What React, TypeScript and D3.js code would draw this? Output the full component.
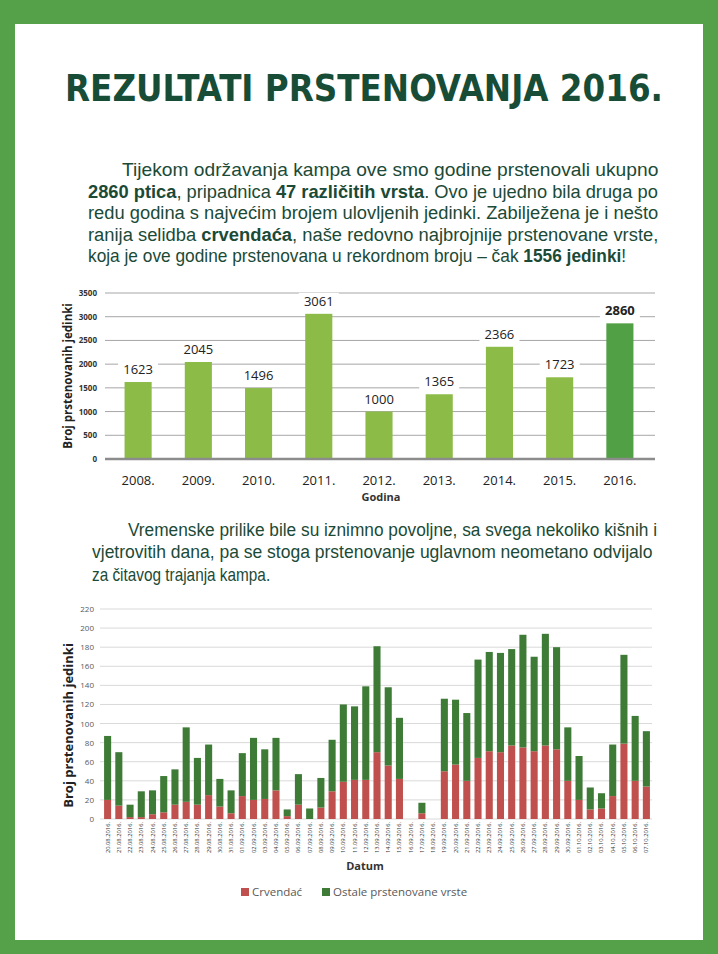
import * as d3 from "d3";
import { useLayoutEffect, useRef, useState } from "react";

// ---- data: yearly totals ----
const years = ["2008.", "2009.", "2010.", "2011.", "2012.", "2013.", "2014.", "2015.", "2016."];
const yearTotals = [1623, 2045, 1496, 3061, 1000, 1365, 2366, 1723, 2860];
const yearTicks = [0, 500, 1000, 1500, 2000, 2500, 3000, 3500];

// ---- data: daily catches 2016 ----
const days = [
  "20.08.2016.", "21.08.2016.", "22.08.2016.", "23.08.2016.", "24.08.2016.", "25.08.2016.",
  "26.08.2016.", "27.08.2016.", "28.08.2016.", "29.08.2016.", "30.08.2016.", "31.08.2016.",
  "01.09.2016.", "02.09.2016.", "03.09.2016.", "04.09.2016.", "05.09.2016.", "06.09.2016.",
  "07.09.2016.", "08.09.2016.", "09.09.2016.", "10.09.2016.", "11.09.2016.", "12.09.2016.",
  "13.09.2016.", "14.09.2016.", "15.09.2016.", "16.09.2016.", "17.09.2016.", "18.09.2016.",
  "19.09.2016.", "20.09.2016.", "21.09.2016.", "22.09.2016.", "23.09.2016.", "24.09.2016.",
  "25.09.2016.", "26.09.2016.", "27.09.2016.", "28.09.2016.", "29.09.2016.", "30.09.2016.",
  "01.10.2016.", "02.10.2016.", "03.10.2016.", "04.10.2016.", "05.10.2016.", "06.10.2016.",
  "07.10.2016.",
];
const crvendac = [
  20, 14, 2, 2, 5, 7, 15, 18, 15, 25, 13, 6,
  24, 20, 21, 30, 3, 15, 0, 12, 29, 39, 41, 41, 70, 56, 42, 0, 6, 0,
  50, 57, 40, 64, 71, 70, 77, 75, 71, 77, 73, 40,
  20, 10, 11, 24, 79, 40, 34,
];
const ostale = [
  67, 56, 13, 27, 25, 38, 37, 78, 49, 53, 29, 24,
  45, 65, 52, 55, 7, 32, 11, 31, 54, 81, 77, 98, 111, 82, 64, 0, 11, 0,
  76, 68, 71, 103, 104, 104, 101, 118, 99, 117, 107, 56,
  46, 23, 16, 54, 93, 68, 58,
];
const dayTicks = [0, 20, 40, 60, 80, 100, 120, 140, 160, 180, 200, 220];
const seriesKeys = ["crvendac", "ostale"];
const seriesNames = ["Crvendać", "Ostale prstenovane vrste"];
const seriesColors = ["#c0504d", "#3e7b37"];

const TEXT = "#1b4a37";
const BODY_FONT = "'Liberation Sans', Arial, sans-serif";
const TITLE_FONT = "'DejaVu Sans Condensed', 'Open Sans', sans-serif";
const CHART_FONT = "'Open Sans', 'Noto Sans', sans-serif";

type Seg = { t: string; b?: boolean };

// one line of body text, squeezed horizontally to the wanted width
function Line({ x, y, w, parts, size = 18 }: { x: number; y: number; w: number; parts: Seg[]; size?: number }) {
  const ref = useRef<SVGTextElement>(null);
  const [k, setK] = useState(0.85);

  useLayoutEffect(() => {
    if (!ref.current) return;
    const natural = ref.current.getBBox().width;
    if (natural > 0) setK(w / natural);
  }, [w]);

  return (
    <text
      ref={ref}
      transform={`translate(${x},${y}) scale(${k},1)`}
      fontFamily={BODY_FONT}
      fontSize={size}
      fill={TEXT}
    >
      {parts.map((p, i) => (
        <tspan key={i} fontWeight={p.b ? "bold" : "normal"}>
          {p.t}
        </tspan>
      ))}
    </text>
  );
}

export default function App() {
  // top chart scales
  const xYear = d3.scaleBand().domain(years).range([108, 650]).paddingInner(0.55).paddingOuter(0.275);
  const yYear = d3.scaleLinear().domain([0, 3500]).range([459, 293]);

  // bottom chart scales
  const xDay = d3.scaleBand().domain(days).range([102, 652]).paddingInner(0.37).paddingOuter(0.185);
  const yDay = d3.scaleLinear().domain([0, 220]).range([819, 609]);

  const rows = days.map((d, i) => ({ date: d, crvendac: crvendac[i], ostale: ostale[i] }));
  const stacked = d3.stack<any>().keys(seriesKeys)(rows);

  return (
    <svg
      width={718}
      height={954}
      style={{ position: "absolute", left: 0, top: 0 }}
    >
      <rect x={0} y={0} width={718} height={954} fill="#55a14a" />
      <rect x={15} y={24} width={688} height={916} fill="#ffffff" />

      {/* title */}
      <text
        x={65}
        y={101}
        textLength={598}
        lengthAdjust="spacingAndGlyphs"
        fontFamily={TITLE_FONT}
        fontWeight="bold"
        fontSize={38}
        fill="#174d37"
      >
        REZULTATI PRSTENOVANJA 2016.
      </text>

      {/* paragraph 1 */}
      <Line x={122} y={176} w={536} parts={[{ t: "Tijekom održavanja kampa ove smo godine prstenovali ukupno" }]} />
      <Line
        x={88}
        y={198}
        w={570}
        parts={[
          { t: "2860 ptica", b: true },
          { t: ", pripadnica " },
          { t: "47 različitih vrsta", b: true },
          { t: ". Ovo je ujedno bila druga po" },
        ]}
      />
      <Line x={88} y={219} w={570} parts={[{ t: "redu godina s najvećim brojem ulovljenih jedinki. Zabilježena je i nešto" }]} />
      <Line
        x={88}
        y={241}
        w={570}
        parts={[
          { t: "ranija selidba " },
          { t: "crvendaća", b: true },
          { t: ", naše redovno najbrojnije prstenovane vrste," },
        ]}
      />
      <Line
        x={88}
        y={262}
        w={538}
        parts={[
          { t: "koja je ove godine prstenovana u rekordnom broju – čak " },
          { t: "1556 jedinki", b: true },
          { t: "!" },
        ]}
      />

      {/* ---- top chart ---- */}
      <g fontFamily={CHART_FONT}>
        {yearTicks.map((t) => (
          <g key={t}>
            {t > 0 && (
              <line x1={105} x2={655} y1={yYear(t)} y2={yYear(t)} stroke="#a6a6a6" strokeWidth={1} />
            )}
            <text x={97} y={yYear(t) + 3} textAnchor="end" fontSize={8} fontWeight="bold" fill="#333">
              {t}
            </text>
          </g>
        ))}
        {years.map((yr, i) => (
          <rect
            key={yr}
            x={xYear(yr)}
            y={yYear(yearTotals[i])}
            width={xYear.bandwidth()}
            height={yYear(0) - yYear(yearTotals[i])}
            fill={i === years.length - 1 ? "#52a045" : "#8cbb47"}
          />
        ))}
        <line x1={105} x2={655} y1={yYear(0)} y2={yYear(0)} stroke="#8c8c8c" strokeWidth={2.5} />
        {years.map((yr, i) => {
          const cx = (xYear(yr) as number) + xYear.bandwidth() / 2;
          const ty = yYear(yearTotals[i]) - 8;
          return (
            <g key={yr}>
              <rect x={cx - 20} y={ty - 13} width={40} height={17} fill="#fff" />
              <text
                x={cx}
                y={ty}
                textAnchor="middle"
                fontSize={13}
                fontWeight={i === years.length - 1 ? "bold" : "normal"}
                fill="#222"
              >
                {yearTotals[i]}
              </text>
              <text x={cx} y={485} textAnchor="middle" fontSize={13} fill="#222">
                {yr}
              </text>
            </g>
          );
        })}
        <text x={381} y={501} textAnchor="middle" fontSize={11} fontWeight="bold" fill="#333">
          Godina
        </text>
        <text
          transform={`translate(72,${yYear(1750)}) rotate(-90)`}
          textAnchor="middle"
          fontSize={11.5}
          fontWeight="bold"
          fill="#222"
        >
          Broj prstenovanih jedinki
        </text>
      </g>

      {/* paragraph 2 */}
      <Line x={128} y={536} w={529} parts={[{ t: "Vremenske prilike bile su iznimno povoljne, sa svega nekoliko kišnih i" }]} />
      <Line x={92} y={558} w={560} parts={[{ t: "vjetrovitih dana, pa se stoga prstenovanje uglavnom neometano odvijalo" }]} />
      <Line x={92} y={581} w={178} parts={[{ t: "za čitavog trajanja kampa." }]} />

      {/* ---- bottom chart ---- */}
      <g fontFamily={CHART_FONT}>
        {dayTicks.map((t) => (
          <g key={t}>
            <line x1={100} x2={652} y1={yDay(t)} y2={yDay(t)} stroke="#d9d9d9" strokeWidth={1} />
            <text x={94} y={yDay(t) + 3} textAnchor="end" fontSize={8} fill="#595959">
              {t}
            </text>
          </g>
        ))}
        {stacked.map((s, si) => (
          <g key={s.key} fill={seriesColors[si]}>
            {s.map((d, i) => (
              <rect
                key={i}
                x={xDay(days[i])}
                y={yDay(d[1])}
                width={xDay.bandwidth()}
                height={yDay(d[0]) - yDay(d[1])}
              />
            ))}
          </g>
        ))}
        {days.map((d) => {
          const cx = (xDay(d) as number) + xDay.bandwidth() / 2;
          return (
            <text
              key={d}
              transform={`translate(${cx + 2},822) rotate(-90)`}
              textAnchor="end"
              fontSize={5.8}
              fill="#333"
            >
              {d}
            </text>
          );
        })}
        <text x={365} y={870} textAnchor="middle" fontSize={11} fontWeight="bold" fill="#333">
          Datum
        </text>
        <text
          transform={`translate(73,${yDay(98)}) rotate(-90)`}
          textAnchor="middle"
          fontSize={13}
          fontWeight="bold"
          fill="#222"
        >
          Broj prstenovanih jedinki
        </text>
        {seriesNames.map((n, i) => {
          const lx = i === 0 ? 241 : 322;
          return (
            <g key={n}>
              <rect x={lx} y={888} width={8} height={8} fill={seriesColors[i]} />
              <text x={lx + 11} y={896} fontSize={11.5} fill="#595959">
                {n}
              </text>
            </g>
          );
        })}
      </g>
    </svg>
  );
}
